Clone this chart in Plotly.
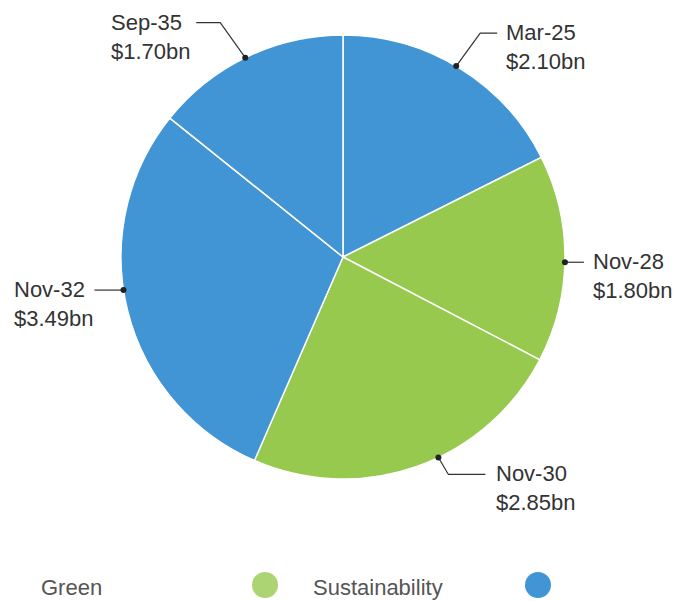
import math
import plotly.graph_objects as go

# ---- data ----
labels = ["Mar-25", "Nov-28", "Nov-30", "Nov-32", "Sep-35"]
values = [2.10, 1.80, 2.85, 3.49, 1.70]
groups = ["Sustainability", "Green", "Green", "Sustainability", "Sustainability"]
legend_names = ["Green", "Sustainability"]

# ---- styling ----
W, H = 677, 601
CX, CY, R = 343, 257, 222
slice_colors = {"Green": "#97c94e", "Sustainability": "#4195d4"}
legend_colors = {"Green": "#acd472", "Sustainability": "#4195d4"}
FONT = "Liberation Sans, Arial, sans-serif"

# label layout: angle nudge (deg), bend offset from dot (px), horizontal run (px), text gap (px)
label_layout = {
    "Mar-25": dict(nudge=-1, bend=(24, -33), run=17, gap=7),
    "Nov-28": dict(nudge=0.9, bend=(0, 0), run=19, gap=7),
    "Nov-30": dict(nudge=-6, bend=(10, 17), run=37, gap=9),
    "Nov-32": dict(nudge=5.3, bend=(0, 0), run=-29, gap=-2),
    "Sep-35": dict(nudge=-0.5, bend=(-25, -35), run=-24, gap=3),
}


def px(x, y):
    return x / W, 1 - y / H


fig = go.Figure()
fig.add_trace(go.Pie(
    labels=labels, values=values, sort=False, direction="clockwise", rotation=0,
    marker=dict(colors=[slice_colors[g] for g in groups], line=dict(color="white", width=1.5)),
    textinfo="none", hoverinfo="skip", showlegend=False,
    domain=dict(x=[(CX - R) / W, (CX + R) / W], y=[1 - (CY + R) / H, 1 - (CY - R) / H]),
))

shapes, annotations = [], []
total = sum(values)
cum = 0.0
for lab, v in zip(labels, values):
    mid = (cum + v / 2) / total * 360
    cum += v
    L = label_layout[lab]
    a = math.radians(mid + L["nudge"])
    dx_, dy_ = CX + R * math.sin(a), CY - R * math.cos(a)
    bx, by = dx_ + L["bend"][0], dy_ + L["bend"][1]
    ex = bx + L["run"]
    p = [px(dx_, dy_), px(bx, by), px(ex, by)]
    shapes.append(dict(type="path", xref="paper", yref="paper",
                       path="M {} {} L {} {} L {} {}".format(p[0][0], p[0][1], p[1][0], p[1][1], p[2][0], p[2][1]),
                       line=dict(color="#333333", width=1.2)))
    r = 3
    shapes.append(dict(type="circle", xref="paper", yref="paper",
                       x0=(dx_ - r) / W, x1=(dx_ + r) / W, y0=1 - (dy_ + r) / H, y1=1 - (dy_ - r) / H,
                       fillcolor="#222222", line=dict(width=0)))
    right = L["run"] >= 0
    tx = ex + (L["gap"] if right else -L["gap"])
    ax, ay = px(tx, by + 14)
    annotations.append(dict(xref="paper", yref="paper", x=ax, y=ay, showarrow=False,
                            xanchor="left" if right else "right", yanchor="middle", align="left",
                            text="{}<br>${:.2f}bn".format(lab, v),
                            font=dict(family=FONT, size=22, color="#333333")))

# legend (text followed by marker)
legend_text_x = [40, 312]
legend_marker_x = [265, 538]
LY = 585
for name, tx, mx in zip(legend_names, legend_text_x, legend_marker_x):
    x, y = px(tx - 1, LY + 2)
    annotations.append(dict(xref="paper", yref="paper", x=x, y=y, showarrow=False,
                            xanchor="left", yanchor="middle", text=name,
                            font=dict(family=FONT, size=22, color="#555555")))
    r = 13
    shapes.append(dict(type="circle", xref="paper", yref="paper",
                       x0=(mx - r) / W, x1=(mx + r) / W, y0=1 - (LY + r) / H, y1=1 - (LY - r) / H,
                       fillcolor=legend_colors[name], line=dict(width=0)))

fig.update_layout(width=W, height=H, margin=dict(l=0, r=0, t=0, b=0),
                  paper_bgcolor="white", plot_bgcolor="white",
                  shapes=shapes, annotations=annotations, showlegend=False)
fig.write_html("out.html", config={"displayModeBar": False})

# remove default page margin so the figure fills the window exactly
with open("out.html", "r", encoding="utf-8") as f:
    html = f.read()
html = html.replace("<body>", '<body style="margin:0;padding:0;overflow:hidden">', 1)
with open("out.html", "w", encoding="utf-8") as f:
    f.write(html)
